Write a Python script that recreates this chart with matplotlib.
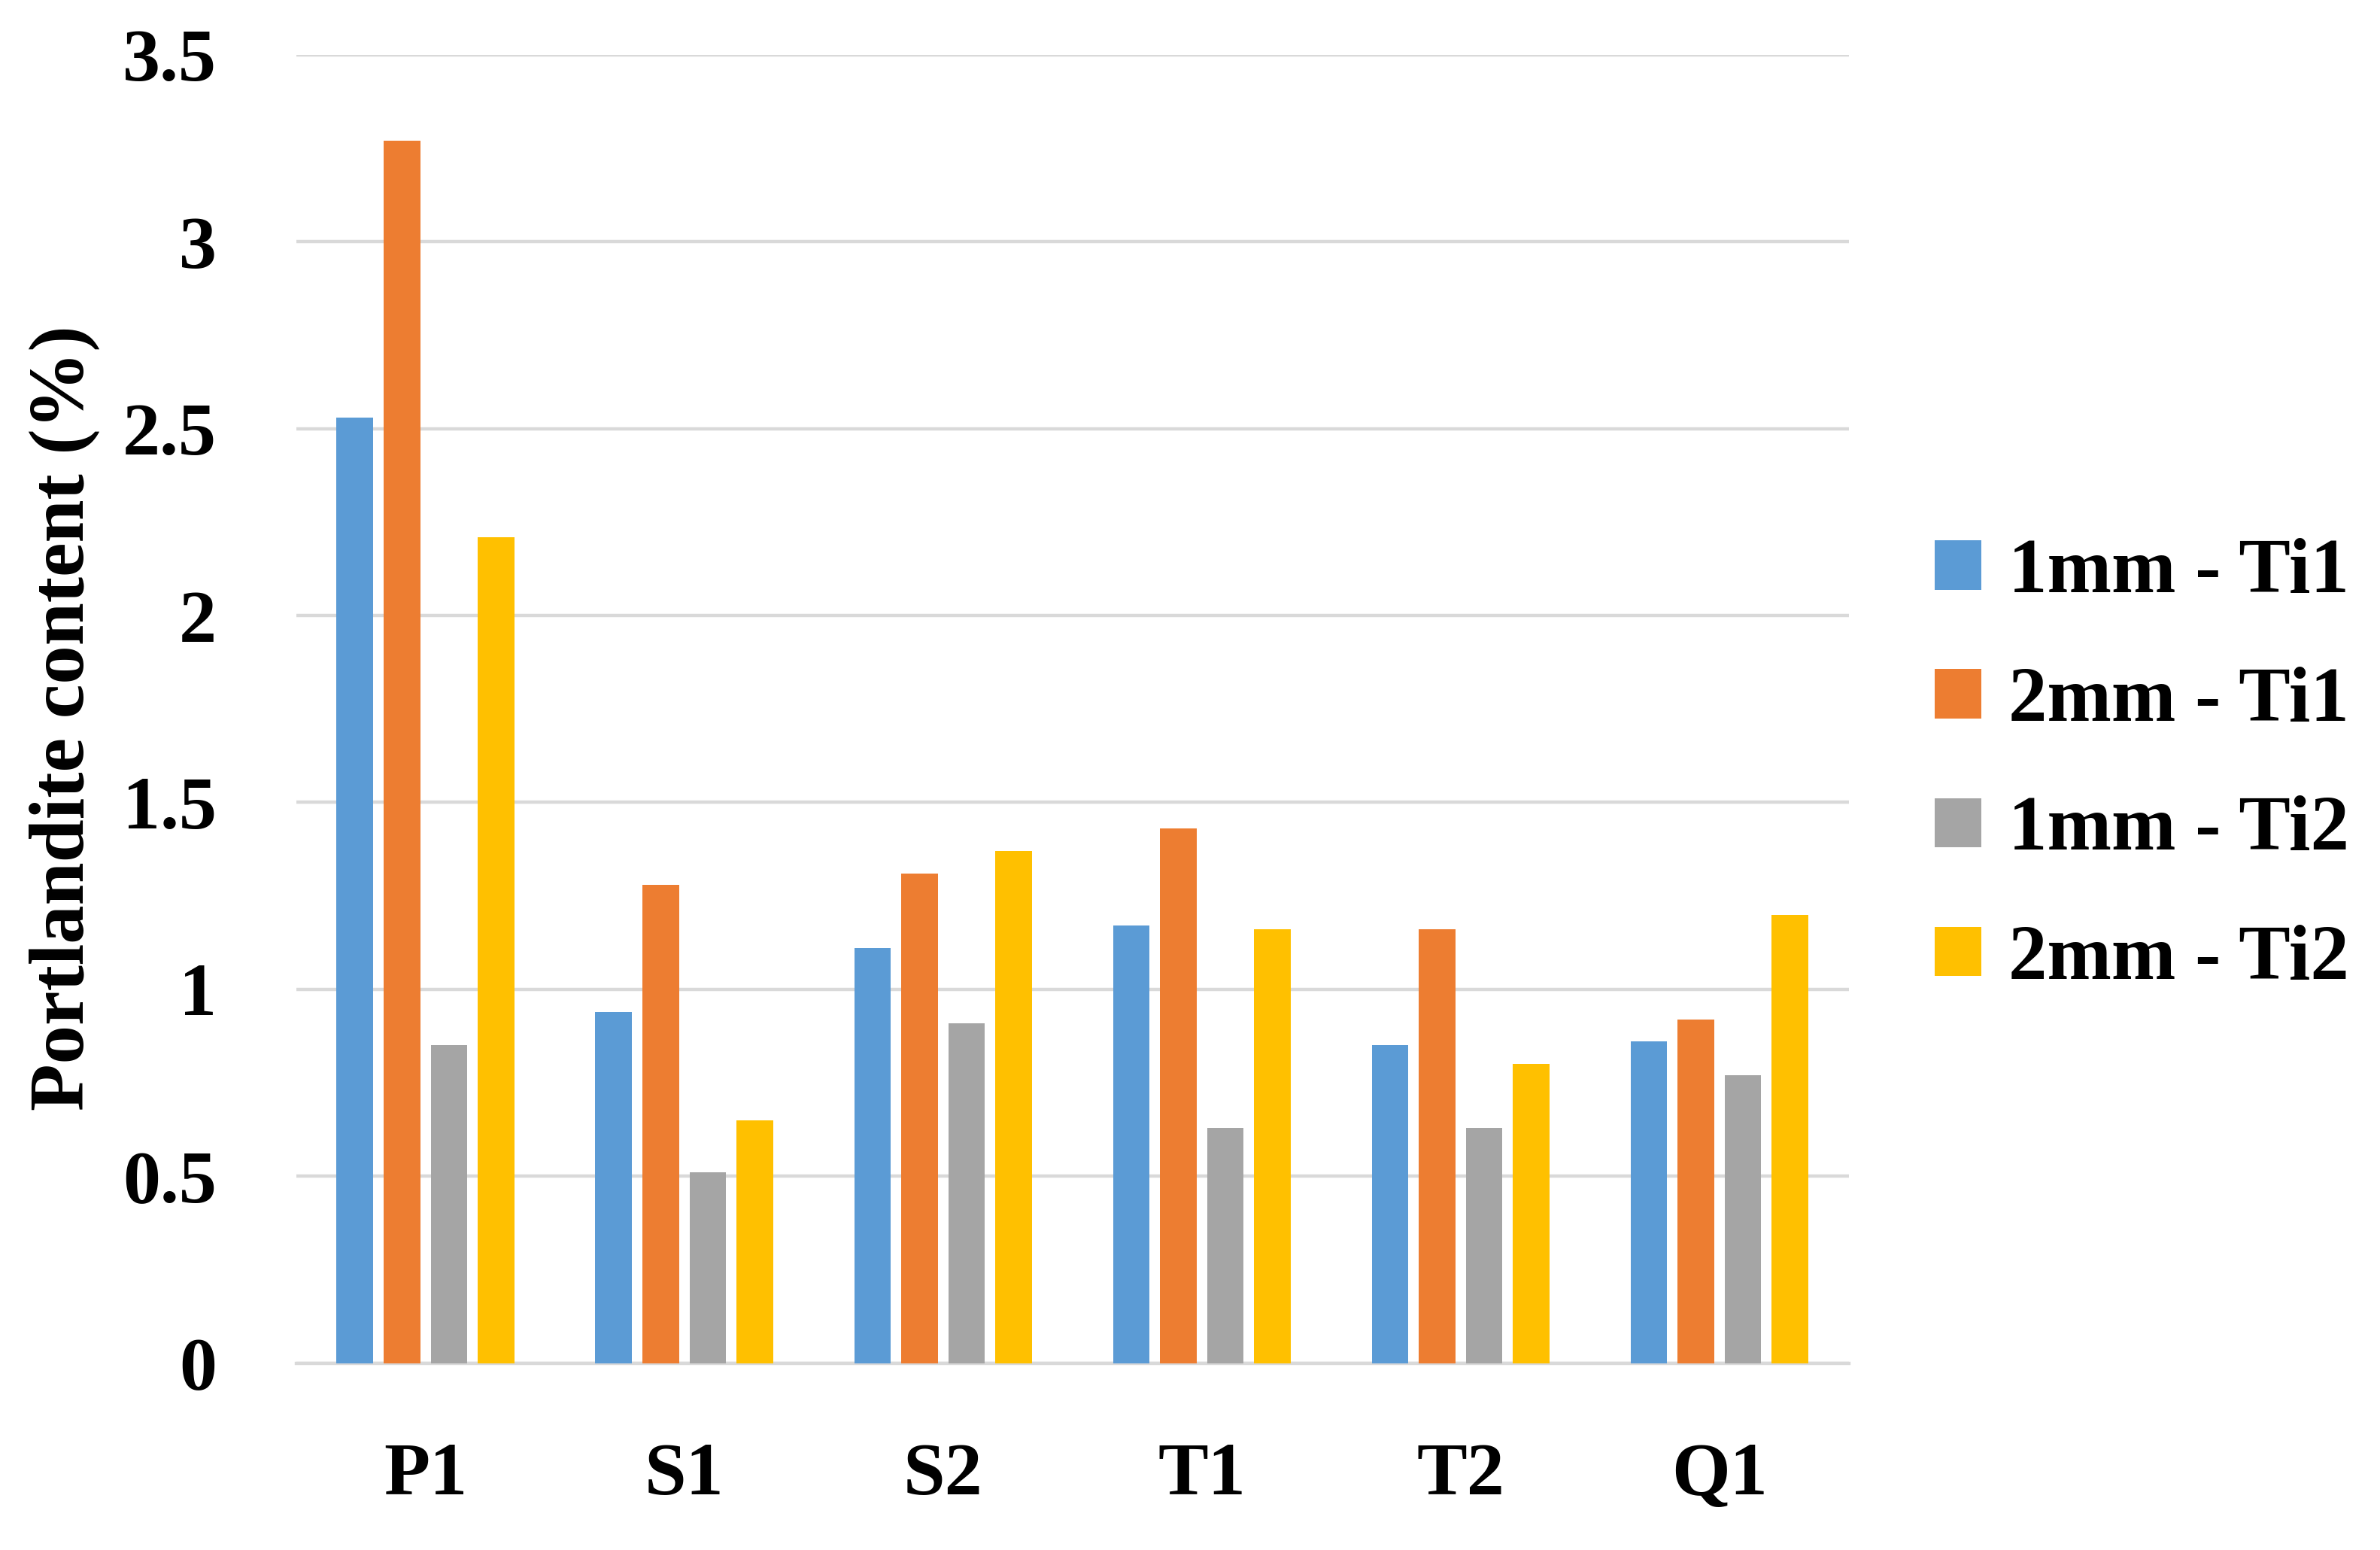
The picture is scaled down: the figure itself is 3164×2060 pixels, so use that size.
import matplotlib
matplotlib.use("Agg")
import matplotlib.pyplot as plt
import numpy as np

categories = ["P1", "S1", "S2", "T1", "T2", "Q1"]
series_names = ["1mm - Ti1", "2mm - Ti1", "1mm - Ti2", "2mm - Ti2"]
s_1mm_ti1 = [2.53, 0.94, 1.11, 1.17, 0.85, 0.86]
s_2mm_ti1 = [3.27, 1.28, 1.31, 1.43, 1.16, 0.92]
s_1mm_ti2 = [0.85, 0.51, 0.91, 0.63, 0.63, 0.77]
s_2mm_ti2 = [2.21, 0.65, 1.37, 1.16, 0.80, 1.20]
colors = ["#5b9bd5", "#ed7d31", "#a5a5a5", "#ffc000"]
yticks = [0, 0.5, 1, 1.5, 2, 2.5, 3, 3.5]
ytick_labels = ["0", "0.5", "1", "1.5", "2", "2.5", "3", "3.5"]

plt.rcParams['font.family'] = ['Liberation Serif', 'DejaVu Serif']
plt.rcParams['font.weight'] = 'bold'

fig = plt.figure(figsize=(15.82, 10.30), dpi=200)
ax = fig.add_axes([0.1244, 0.1205, 0.6524, 0.8442])

data = [s_1mm_ti1, s_2mm_ti1, s_1mm_ti2, s_2mm_ti2]
x = np.arange(len(categories))
slot = 0.182
bw = 0.141
handles = []
for i, (vals, c, name) in enumerate(zip(data, colors, series_names)):
    h = ax.bar(x + (i - 1.5) * slot, vals, width=bw, color=c, label=name, zorder=3)
    handles.append(h)

ax.set_xlim(-0.5, len(categories) - 0.5)
ax.set_ylim(0, 3.5)
ax.set_yticks(yticks)
ax.set_yticklabels(ytick_labels)
ax.set_xticks(x)
ax.set_xticklabels(categories)
ax.tick_params(axis='y', length=0, pad=38, labelsize=36)
ax.tick_params(axis='x', length=0, pad=38, labelsize=36)
for lab in ax.get_yticklabels() + ax.get_xticklabels():
    lab.set_fontweight('bold')

ax.yaxis.grid(True, color="#d9d9d9", linewidth=1.6, zorder=0)
ax.set_axisbelow(True)
for s in ["top", "right", "left"]:
    ax.spines[s].set_visible(False)
ax.spines["bottom"].set_color("#d9d9d9")
ax.spines["bottom"].set_linewidth(1.6)

fig.text(0.027, 0.537, "Portlandite content (%)", rotation=90, ha='center', va='center',
         fontsize=37, fontweight='bold')

leg = fig.legend(handles=handles, labels=series_names, loc='center left',
                 bbox_to_anchor=(0.813, 0.5054), frameon=False,
                 borderpad=0, borderaxespad=0,
                 handlelength=0.6, handleheight=0.6, handletextpad=0.35,
                 labelspacing=0.75, prop={'weight': 'bold', 'size': 37})

fig.savefig("out.png", dpi=200, facecolor="white")
